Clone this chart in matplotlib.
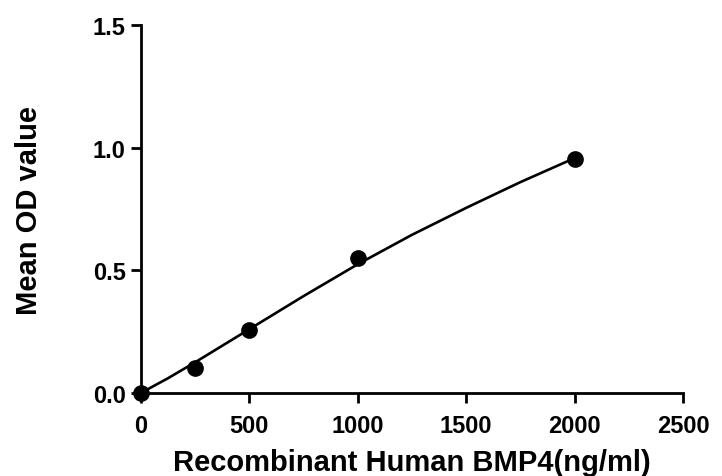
import numpy as np
import matplotlib.pyplot as plt

plt.rcParams['font.family'] = ['Liberation Sans', 'DejaVu Sans']
plt.rcParams['font.weight'] = 'bold'

# measured standards
conc = [0, 250, 500, 1000, 2000]
od = [0.0, 0.10, 0.256, 0.55, 0.955]

# fitted curve
curve_x = [0, 125, 250, 500, 750, 1000, 1250, 1500, 1750, 2000]
curve_y = [0.0, 0.06, 0.125, 0.26, 0.395, 0.525, 0.645, 0.755, 0.86, 0.958]

xticks = [0, 500, 1000, 1500, 2000, 2500]
yticks = [0.0, 0.5, 1.0, 1.5]

fig = plt.figure(figsize=(7.22, 4.77), dpi=100)
ax = fig.add_axes([0.195, 0.174, 0.751, 0.771])

ax.plot(curve_x, curve_y, color='black', lw=1.9, clip_on=False)
ax.plot(conc, od, 'o', color='black', ms=11, clip_on=False, zorder=5)

ax.set_xlim(0, 2500)
ax.set_ylim(0, 1.5)
ax.set_xticks(xticks)
ax.set_yticks(yticks)
ax.set_yticklabels(['%.1f' % v for v in yticks])

for s in ['top', 'right']:
    ax.spines[s].set_visible(False)
for s in ['left', 'bottom']:
    ax.spines[s].set_linewidth(2.0)
ax.tick_params(direction='out', length=7, width=2.0)
ax.tick_params(axis='x', labelsize=17, pad=8)
ax.tick_params(axis='y', labelsize=17, pad=4)

ax.set_xlabel('Recombinant Human BMP4(ng/ml)', fontsize=21, fontweight='bold', labelpad=8)
ax.set_ylabel('Mean OD value', fontsize=21, fontweight='bold', labelpad=36)

fig.savefig('out.png', dpi=100)
